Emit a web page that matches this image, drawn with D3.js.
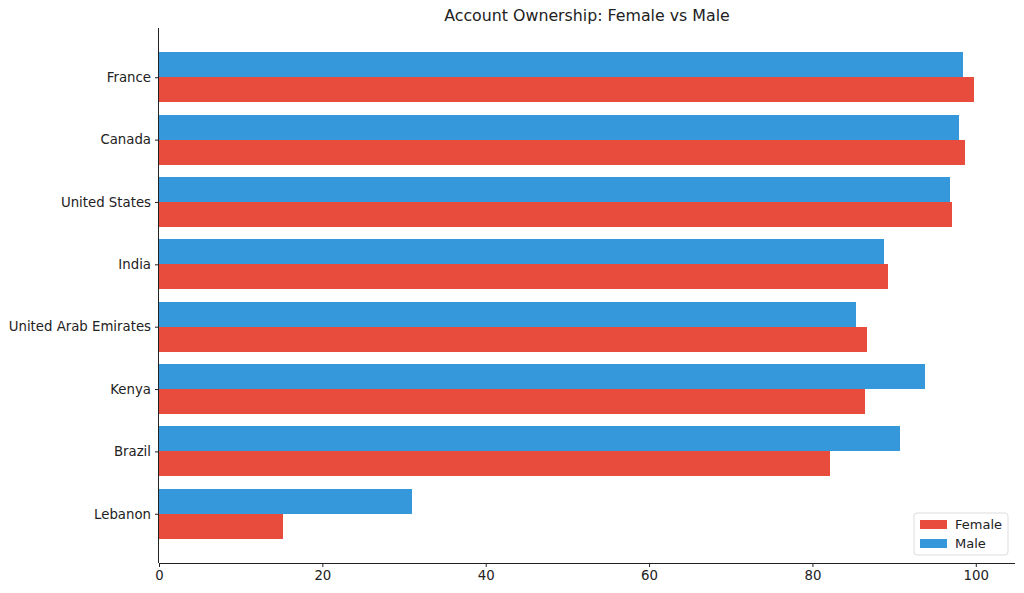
<!DOCTYPE html>
<html><head><meta charset="utf-8">
<script src="https://cdn.jsdelivr.net/npm/d3@7"></script>
<style>body{margin:0;background:#fff;} text{font-family:"DejaVu Sans",sans-serif;fill:#222;}</style>
</head><body><svg id="c" width="1024" height="593"></svg>
<script>
const categories = ["Lebanon","Brazil","Kenya","United Arab Emirates","India","United States","Canada","France"];
const female = [15.2, 82.2, 86.4, 86.7, 89.2, 97.1, 98.7, 99.8];
const male = [31.0, 90.7, 93.8, 85.3, 88.8, 96.8, 98.0, 98.4];
const xTicks = [0,20,40,60,80,100];
const seriesNames = ["Female","Male"];
const colors = {Female:"#e74c3c", Male:"#3498db"};

const svg = d3.select("#c");
const L=159, R=1015, T=28, B=563;
const x = d3.scaleLinear().domain([0, 104.8]).range([L, R]);
const y = d3.scaleLinear().domain([-0.79, 7.79]).range([B, T]);
const h = 0.4;

const g = svg.append("g").attr("shape-rendering","crispEdges");
categories.forEach((c,i)=>{
  g.append("rect").attr("x",x(0)).attr("y",y(i+h)).attr("width",x(male[i])-x(0)).attr("height",y(i)-y(i+h)).attr("fill",colors.Male);
  g.append("rect").attr("x",x(0)).attr("y",y(i)).attr("width",x(female[i])-x(0)).attr("height",y(i-h)-y(i)).attr("fill",colors.Female);
});

const xa = svg.append("g").attr("transform",`translate(0,${B})`).call(d3.axisBottom(x).tickValues(xTicks).tickSize(4).tickPadding(4).tickFormat(d3.format("d")));
const ya = svg.append("g").attr("transform",`translate(${L},0)`).call(d3.axisLeft(y).tickValues(d3.range(categories.length)).tickSize(4).tickPadding(4).tickFormat(i=>categories[i]));
[xa,ya].forEach(a=>{a.selectAll("text").style("font-size","13.3px").attr("fill","#222");a.selectAll("line,path").attr("stroke","#222");a.select(".domain").attr("stroke-width",1);});
xa.select(".domain").attr("d",`M${L},0.5H${R}`);
ya.select(".domain").attr("d",`M-0.5,${B}V${T}`);

svg.append("text").attr("x",(L+R)/2).attr("y",21).attr("text-anchor","middle").style("font-size","15.8px").text("Account Ownership: Female vs Male");

const lg = svg.append("g").attr("transform","translate(914,513)");
lg.append("rect").attr("width",94).attr("height",42).attr("rx",3).attr("fill","#fff").attr("fill-opacity",0.8).attr("stroke","#ddd");
seriesNames.forEach((s,i)=>{
  lg.append("rect").attr("x",6).attr("y",7+i*19).attr("width",27).attr("height",9).attr("fill",colors[s]);
  lg.append("text").attr("x",41).attr("y",16+i*19).style("font-size","13px").text(s);
});
</script></body></html>
